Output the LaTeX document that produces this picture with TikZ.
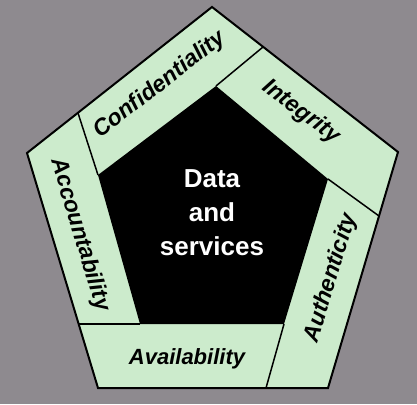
\documentclass[tikz,border=0pt]{standalone}
\usepackage{fontspec}
\setmainfont{Liberation Sans}
\definecolor{bggray}{RGB}{142,138,143}
\definecolor{seggreen}{RGB}{204,235,204}
\begin{document}
\begin{tikzpicture}[x=1pt,y=-1pt,
  lbl/.style={font=\fontsize{23}{27}\selectfont\bfseries\itshape, text=black, inner sep=0pt},
  ctr/.style={font=\fontsize{26}{34}\selectfont\bfseries, text=white, align=center, inner sep=0pt},
  divider/.style={draw=black, line width=1.5pt}]
\fill[bggray] (0,0) rectangle (417,404);
\useasboundingbox (0,0) rectangle (417,404);
% outer pentagon
\coordinate (OT) at (212,7);
\coordinate (OR) at (398,152);
\coordinate (OBR) at (328,388);
\coordinate (OBL) at (98,388);
\coordinate (OL) at (27,153);
% inner pentagon
\coordinate (IT) at (216,86);
\coordinate (IR) at (328,179);
\coordinate (IBR) at (284,324);
\coordinate (IBL) at (140,324);
\coordinate (IL) at (98,175);
% divider ends on outer edges
\coordinate (D1) at (78,113);
\coordinate (D2) at (263,47);
\coordinate (D3) at (379,216);
\coordinate (D4) at (266,388);
\coordinate (D5) at (79,324);
\filldraw[fill=seggreen, draw=black, line width=2pt, line join=miter]
  (OT) -- (OR) -- (OBR) -- (OBL) -- (OL) -- cycle;
\fill[black] (IT) -- (IR) -- (IBR) -- (IBL) -- (IL) -- cycle;
\draw[divider] (D1) -- (IL);
\draw[divider] (D2) -- (IT);
\draw[divider] (D3) -- (IR);
\draw[divider] (D4) -- (IBR);
\draw[divider] (D5) -- (IBL);
% labels
\node[lbl, rotate=38] (conf) at (160,85) {Confidentiality};
\node[lbl, rotate=-37] (integ) at (301,112) {Integrity};
\node[lbl, rotate=73] (auth) at (331,278) {Authenticity};
\node[lbl, rotate=-73] (acc) at (80,235) {Accountability};
\node[lbl, font=\fontsize{22}{26}\selectfont\bfseries\itshape] (avail) at (187,359) {Availability};
\node[ctr] (data) at (212,213) {Data\\and\\services};
\end{tikzpicture}
\end{document}
